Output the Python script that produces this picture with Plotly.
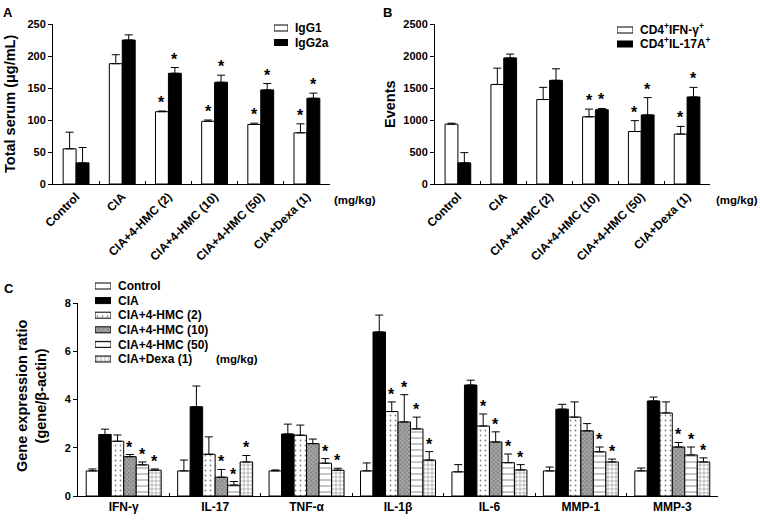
import plotly.graph_objects as go

# ---------------- data ----------------
groups_ab = ["Control", "CIA", "CIA+4-HMC (2)", "CIA+4-HMC (10)", "CIA+4-HMC (50)", "CIA+Dexa (1)"]

igg1 = [55, 188, 113, 98, 93, 80]
igg1_err = [26, 14, 1, 2, 2, 14]
igg1_sig = [0, 0, 1, 1, 1, 1]
igg2a = [33, 225, 173, 159, 147, 134]
igg2a_err = [24, 8, 9, 11, 10, 8]
igg2a_sig = [0, 0, 1, 1, 1, 1]

ifn_events = [935, 1555, 1320, 1050, 820, 780]
ifn_events_err = [15, 255, 190, 120, 170, 120]
ifn_events_sig = [0, 0, 0, 1, 1, 1]
il17_events = [330, 1970, 1620, 1160, 1080, 1360]
il17_events_err = [160, 60, 180, 20, 270, 150]
il17_events_sig = [0, 0, 0, 1, 1, 1]

genes = ["IFN-γ", "IL-17", "TNF-α", "IL-1β", "IL-6", "MMP-1", "MMP-3"]
c_names = ["Control", "CIA", "CIA+4-HMC (2)", "CIA+4-HMC (10)", "CIA+4-HMC (50)", "CIA+Dexa (1)"]
c_control = [1.04, 1.04, 1.04, 1.04, 1.0, 1.04, 1.04]
c_control_err = [0.08, 0.45, 0.04, 0.33, 0.3, 0.16, 0.12]
c_control_sig = [0, 0, 0, 0, 0, 0, 0]
c_cia = [2.55, 3.7, 2.57, 6.8, 4.6, 3.6, 3.94]
c_cia_err = [0.22, 0.86, 0.41, 0.7, 0.2, 0.2, 0.16]
c_cia_sig = [0, 0, 0, 0, 0, 0, 0]
c_h2 = [2.27, 1.73, 2.52, 3.5, 2.9, 3.27, 3.44]
c_h2_err = [0.26, 0.72, 0.42, 0.4, 0.5, 0.63, 0.46]
c_h2_sig = [0, 0, 0, 1, 1, 0, 0]
c_h10 = [1.63, 0.78, 2.17, 3.07, 2.24, 2.7, 2.03]
c_h10_err = [0.09, 0.32, 0.19, 1.13, 0.42, 0.3, 0.19]
c_h10_sig = [1, 1, 0, 1, 1, 0, 1]
c_h50 = [1.29, 0.45, 1.36, 2.78, 1.38, 1.83, 1.7]
c_h50_err = [0.12, 0.15, 0.19, 0.49, 0.36, 0.2, 0.33]
c_h50_sig = [1, 1, 1, 1, 1, 1, 1]
c_dexa = [1.07, 1.41, 1.07, 1.49, 1.08, 1.41, 1.41]
c_dexa_err = [0.05, 0.27, 0.08, 0.35, 0.22, 0.12, 0.17]
c_dexa_sig = [1, 1, 1, 1, 1, 1, 1]

# ---------------- style ----------------
FONT = "Arial, 'Liberation Sans', sans-serif"
W, H = 760, 521
line = dict(color="black", width=1)

fig = go.Figure()


def err(vals):
    return dict(type="data", symmetric=False, array=vals, arrayminus=[0] * len(vals),
                color="black", thickness=1, width=4)


def offsets(n, span):
    w = span / n
    return w, [-span / 2 + (k + 0.5) * w for k in range(n)]


def add_group(xs, series, xref, yref, span, star_size, star_shift):
    n = len(series)
    w, offs = offsets(n, span)
    for k, (name, vals, errs, sigs, mk) in enumerate(series):
        fig.add_trace(go.Bar(x=xs, y=vals, name=name, marker=mk, error_y=err(errs),
                             width=w, offset=offs[k] - w / 2, xaxis=xref, yaxis=yref,
                             showlegend=False))
        for i, (v, e, s) in enumerate(zip(vals, errs, sigs)):
            if s:
                fig.add_annotation(x=i + offs[k], y=v + e, xref=xref, yref=yref, text="*",
                                   showarrow=False, yanchor="bottom", yshift=star_shift,
                                   font=dict(family=FONT, size=star_size, color="black",
                                             weight="bold"))


white = dict(color="white", line=line)
black = dict(color="black", line=line)
m_h2 = dict(color="white", line=line,
            pattern=dict(shape=".", fgcolor="black", bgcolor="white", size=5, solidity=0.1))
m_h10 = dict(color="#9a9a9a", line=line,
             pattern=dict(shape="x", fgcolor="#4a4a4a", bgcolor="#a8a8a8", size=3, solidity=0.45))
m_h50 = dict(color="white", line=line,
             pattern=dict(shape="-", fgcolor="black", bgcolor="white", size=6, solidity=0.15))
m_dexa = dict(color="white", line=line,
              pattern=dict(shape="+", fgcolor="black", bgcolor="white", size=4, solidity=0.25))

# ---------- Panel A ----------
add_group(groups_ab, [("IgG1", igg1, igg1_err, igg1_sig, white),
                      ("IgG2a", igg2a, igg2a_err, igg2a_sig, black)],
          "x", "y", 0.56, 16, -2)
# ---------- Panel B ----------
add_group(groups_ab, [("CD4+IFN-γ+", ifn_events, ifn_events_err, ifn_events_sig, white),
                      ("CD4+IL-17A+", il17_events, il17_events_err, il17_events_sig, black)],
          "x2", "y2", 0.56, 16, -2)
# ---------- Panel C ----------
c_markers = [white, black, m_h2, m_h10, m_h50, m_dexa]
c_vals = [c_control, c_cia, c_h2, c_h10, c_h50, c_dexa]
c_errs = [c_control_err, c_cia_err, c_h2_err, c_h10_err, c_h50_err, c_dexa_err]
c_sigs = [c_control_sig, c_cia_sig, c_h2_sig, c_h10_sig, c_h50_sig, c_dexa_sig]
add_group(genes, list(zip(c_names, c_vals, c_errs, c_sigs, c_markers)),
          "x3", "y3", 0.82, 16, -3)

# ---------- axes ----------
tickfont = dict(family=FONT, size=11, color="black", weight="bold")
xtickfont = dict(family=FONT, size=12, color="black", weight="bold")
titlefont = dict(family=FONT, size=14.5, color="black", weight="bold")
legfont = dict(family=FONT, size=12, color="black", weight="bold")


def xax(domain, anchor, rng, angle):
    return dict(domain=domain, anchor=anchor, range=rng, showline=True, linecolor="black",
                linewidth=1, ticks="inside", tickson="boundaries", ticklen=3, tickcolor="black",
                tickangle=angle, tickfont=xtickfont, showgrid=False, zeroline=False,
                automargin=False, fixedrange=True)


def yax(domain, anchor, rng, dtick):
    return dict(domain=domain, anchor=anchor, range=rng, dtick=dtick, showline=True,
                linecolor="black", linewidth=1, ticks="outside", ticklen=4, tickcolor="black",
                tickfont=tickfont, showgrid=False, zeroline=False, automargin=False,
                fixedrange=True)


yAB = [1 - 184 / H, 1 - 24 / H]
layout_axes = dict(
    xaxis=xax([53 / W, 330 / W], "y", [-0.5, 5.5], -45),
    yaxis=yax(yAB, "x", [0, 250], 50),
    xaxis2=xax([435 / W, 710 / W], "y2", [-0.5, 5.5], -45),
    yaxis2=yax(yAB, "x2", [0, 2500], 500),
    xaxis3=xax([78 / W, 718 / W], "y3", [-0.5, 6.5], 0),
    yaxis3=yax([1 - 496 / H, 1 - 303 / H], "x3", [0, 8], 2),
)


# ---------- legends built as tiny swatch subplots ----------
def legend_box(idx, labels, markers, x0, x1, ycenter0, row_h, thick):
    n = len(labels)
    ytop = ycenter0 - row_h / 2
    xa, ya = "x%d" % idx, "y%d" % idx
    for lab, mk in zip(labels, markers):
        fig.add_trace(go.Bar(x=[1], y=[lab], orientation="h", marker=mk, width=thick / row_h,
                             xaxis=xa, yaxis=ya, showlegend=False, hoverinfo="skip"))
    layout_axes["xaxis%d" % idx] = dict(domain=[x0 / W, x1 / W], anchor=ya, range=[0, 1],
                                        visible=False, fixedrange=True)
    layout_axes["yaxis%d" % idx] = dict(domain=[1 - (ytop + n * row_h) / H, 1 - ytop / H],
                                        anchor=xa, type="category", range=[n - 0.5, -0.5],
                                        side="right", showline=False, ticks="", showgrid=False,
                                        zeroline=False, tickfont=legfont, automargin=False,
                                        tickmode="array", tickvals=labels, ticktext=labels,
                                        ticklabelstandoff=6, fixedrange=True)


legend_box(4, ["IgG1", "IgG2a"], [white, black], 274, 288, 28, 14.5, 6)
legend_box(5, ["CD4<sup>+</sup>IFN-γ<sup>+</sup>", "CD4<sup>+</sup>IL-17A<sup>+</sup>"],
           [white, black], 617, 633, 30, 14, 6)
legend_box(6, c_names, c_markers, 95, 111, 286, 14.6, 6)

fig.update_layout(**layout_axes)
fig.update_layout(
    barmode="overlay",
    width=W, height=H, margin=dict(l=0, r=0, t=0, b=0),
    paper_bgcolor="white", plot_bgcolor="white",
    font=dict(family=FONT, color="black"),
    showlegend=False,
)

# axis titles
for txt, x, y in [("Total serum (μg/mL)", 10, 104), ("Events", 390, 104),
                  ("Gene expression ratio<br>(gene/β-actin)", 31, 396)]:
    fig.add_annotation(text=txt, x=x / W, y=1 - y / H, xref="paper", yref="paper",
                       xanchor="center", yanchor="middle", textangle=-90, showarrow=False,
                       font=titlefont)

# panel letters
for txt, x, y in [("A", 1, 3), ("B", 381, 3), ("C", 2, 279)]:
    fig.add_annotation(text=txt, x=x / W, y=1 - y / H, xref="paper", yref="paper",
                       xanchor="left", yanchor="top", showarrow=False,
                       font=dict(family=FONT, size=13, color="black", weight="bold"))
# unit labels
for x, y in [(355, 200), (737, 200), (237, 359)]:
    fig.add_annotation(text="(mg/kg)", x=x / W, y=1 - y / H, xref="paper", yref="paper",
                       xanchor="center", yanchor="middle", showarrow=False,
                       font=dict(family=FONT, size=11.5, color="black", weight="bold"))

fig.write_html("out.html", config={"displayModeBar": False},
               post_script="document.body.style.margin='0px';document.body.style.overflow='hidden';")
